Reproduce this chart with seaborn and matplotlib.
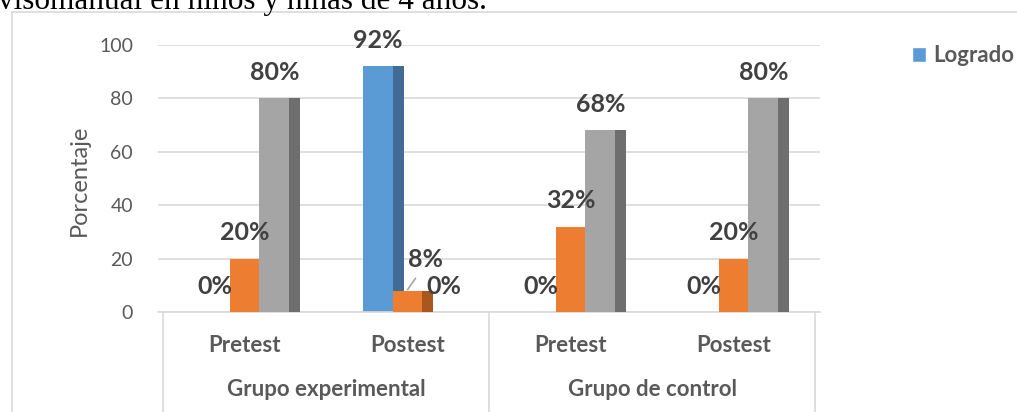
import numpy as np
import pandas as pd
import matplotlib
matplotlib.use("Agg")
import matplotlib.pyplot as plt
import matplotlib.transforms as mtransforms
from matplotlib.patches import Rectangle, Patch
import seaborn as sns

# data
categories = ["GE Pretest", "GE Postest", "GC Pretest", "GC Postest"]
sub_labels = ["Pretest", "Postest", "Pretest", "Postest"]
group_labels = ["Grupo experimental", "Grupo de control"]
series = ["Logrado", "En proceso", "Inicio"]
logrado = [0, 92, 0, 0]
en_proceso = [20, 8, 32, 20]
inicio = [80, 0, 68, 80]
yticks = [0, 20, 40, 60, 80, 100]

front_colors = ["#5B9BD5", "#ED7D31", "#A5A5A5"]
side_colors = ["#3F6B94", "#A9561F", "#6E6E6E"]
TEXT = "#595959"
LABEL = "#404040"

df = pd.DataFrame({
    "cat": categories * 3,
    "serie": np.repeat(series, len(categories)),
    "valor": logrado + en_proceso + inicio,
})

sns.set_style("white")
plt.rcParams["font.family"] = ["Lato", "DejaVu Sans"]

W, H = 1017, 412
fig = plt.figure(figsize=(W / 100, H / 100), dpi=100)
# axes spans px 158..820 horizontally, 45..312 vertically
ax = fig.add_axes([158 / W, 1 - 312 / H, (820 - 158) / W, (312 - 45) / H])

sns.barplot(data=df, x="cat", y="valor", hue="serie", order=categories,
            hue_order=series, palette=front_colors, width=0.55,
            saturation=1, legend=False, ax=ax, linewidth=0)

dpx = 4 / 652.0
ax.set_xlim(-0.5 - 5 * dpx, 3.5 + 5 * dpx)
ax.set_ylim(0, 100)
ax.set_yticks(yticks)
ax.set_yticklabels([str(t) for t in yticks], fontsize=14, color=TEXT)
ax.tick_params(axis="y", length=0, pad=18)
ax.set_xticks([])
ax.set_xlabel("")
ax.set_ylabel("")
ax.yaxis.grid(True, color="#D9D9D9", linewidth=1.2)
ax.set_axisbelow(True)
for s in ["top", "right", "left"]:
    ax.spines[s].set_visible(False)
ax.spines["bottom"].set_color("#D9D9D9")
ax.spines["bottom"].set_linewidth(1.2)

# fake 3D: dark right side on every bar, series drawn in order
depth = 11 * dpx
n = len(categories)
for i, bar in enumerate(ax.patches[: 3 * n]):
    k = i // n
    bar.set_zorder(2 + k)
    x0, w, h = bar.get_x(), bar.get_width(), bar.get_height()
    if h > 0:
        ax.add_patch(Rectangle((x0 + w, 0), depth, h, facecolor=side_colors[k],
                               edgecolor="none", zorder=2 + k))
    txt = f"{int(round(h))}%"
    cx = x0 + w / 2
    if k == 1 and h == 8:
        ax.annotate(txt, (cx, h), xytext=(18, 31), textcoords="offset pixels",
                    ha="center", va="center", fontsize=18, fontweight="bold",
                    color=LABEL, zorder=10)
        ax.annotate("", (cx, h + 0.3), xytext=(cx + 8 * dpx, h + 4.6),
                    arrowprops=dict(arrowstyle="-", color="#A5A5A5", lw=1.2,
                                    shrinkA=0, shrinkB=0),
                    zorder=10)
    elif k == 2 and h == 0:
        ax.annotate(txt, (cx, h), xytext=(6, 26), textcoords="offset pixels",
                    ha="center", va="center", fontsize=18, fontweight="bold",
                    color=LABEL, zorder=10)
    else:
        ax.annotate(txt, (cx, h), xytext=(0, 26), textcoords="offset pixels",
                    ha="center", va="center", fontsize=18, fontweight="bold",
                    color=LABEL, zorder=10)

# category labels and group separators below the axis
trans = mtransforms.blended_transform_factory(ax.transData, ax.transAxes)
for i, lab in enumerate(sub_labels):
    ax.text(i, -33 / 267, lab, transform=trans, ha="center", va="center",
            fontsize=16, fontweight="bold", color=TEXT)
for g, lab in enumerate(group_labels):
    ax.text(2 * g + 0.5, -78 / 267, lab, transform=trans, ha="center",
            va="center", fontsize=16, fontweight="bold", color=TEXT)
for xs in [-0.5, 1.5, 3.5]:
    ax.plot([xs, xs], [0, -100 / 267], transform=trans, color="#D9D9D9",
            lw=1.2, clip_on=False)

fig.text(79 / W, 1 - 180 / H, "Porcentaje", rotation=90, ha="center",
         va="center", fontsize=17, color=TEXT)

fig.legend(handles=[Patch(facecolor=front_colors[0])], labels=[series[0]],
           loc="center left", bbox_to_anchor=(892 / W, 1 - 56 / H),
           frameon=False, handlelength=0.65, handleheight=0.65,
           handletextpad=0.3, prop={"size": 16, "weight": "bold"},
           labelcolor=TEXT)

# chart border and the cut-off caption above it
fig.add_artist(Rectangle((12 / W, -0.05), 1.1, 1 - 12 / H + 0.05,
                         transform=fig.transFigure, facecolor="none",
                         edgecolor="#D9D9D9", lw=1.2))
fig.text(-2 / W, 1 - 9 / H, "visomanual en niños y niñas de 4 años.",
         ha="left", va="baseline", fontsize=22.5, family="Liberation Serif",
         color="black")

fig.savefig("out.png", dpi=100)
